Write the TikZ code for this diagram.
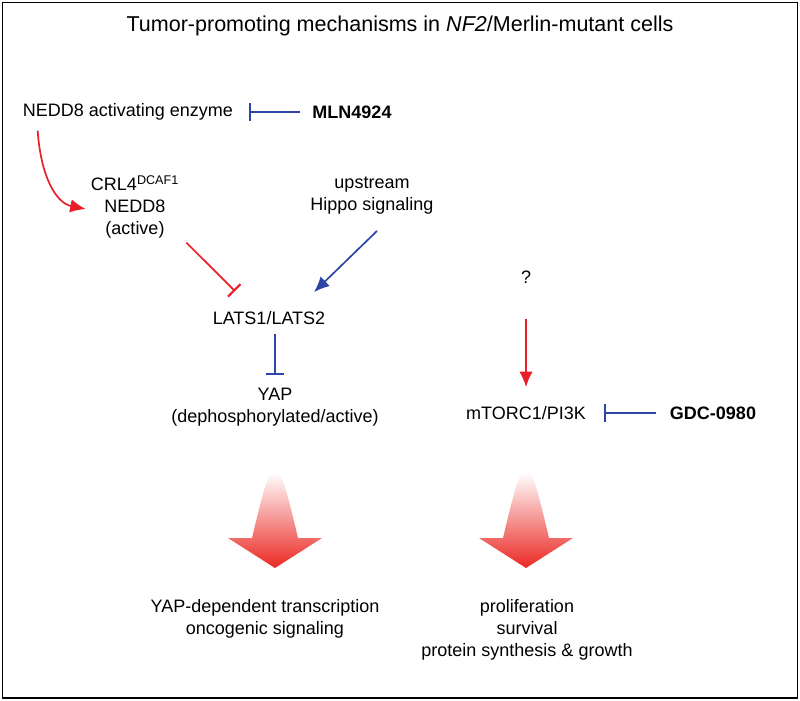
\documentclass[tikz,border=0pt]{standalone}
\usepackage{fontspec}
\setmainfont{Liberation Sans}
\usetikzlibrary{arrows.meta,calc}

\definecolor{inhblue}{RGB}{45,70,165}
\definecolor{actred}{RGB}{232,30,40}
\definecolor{fanred}{RGB}{235,40,35}

\begin{document}
\begin{tikzpicture}[x=0.025cm,y=-0.025cm,
  every node/.style={inner sep=0pt,align=center,font=\fontsize{12.8}{15.6}\selectfont},
  drug/.style={font=\fontsize{12.8}{15.6}\selectfont\bfseries},
  act/.style={line width=1.2pt,-{Latex[length=11pt,width=9.5pt]}},
  inh/.style={line width=1.2pt,-{Bar[width=12.5pt,line width=1.5pt]}},
  fan/.style={top color=white,bottom color=fanred}]
\useasboundingbox (0,0) rectangle (800,701);
\draw[line width=1.4pt] (2.5,2.5) rectangle (797.5,698);

\node[font=\fontsize{15.3}{18}\selectfont] (title) at (400,26)
  {Tumor-promoting mechanisms in \textit{NF2}/Merlin-mutant cells};

% NEDD8 branch
\node (nae) at (128,112) {NEDD8 activating enzyme};
\node[drug] (mln) at (352,112) {MLN4924};
\node (crl) at (135,207) {CRL4\textsuperscript{DCAF1}\\NEDD8\\(active)};
\node (hippo) at (372,196) {upstream\\Hippo signaling};
\node (lats) at (269,318) {LATS1/LATS2};
\node (yap) at (275,407) {YAP\\(dephosphorylated/active)};

% mTOR branch
\node (q) at (526,277) {?};
\node (mtor) at (526,413) {mTORC1/PI3K};
\node[drug] (gdc) at (713,413) {GDC-0980};

% outcomes
\node (yapout) at (265,618.5) {YAP-dependent transcription\\oncogenic signaling};
\node (mtorout) at (527,630) {proliferation\\survival\\protein synthesis \& growth};

\draw[inh,inhblue] ($(mln.west)+(-12,0)$) -- ($(nae.east)+(16,0)$);
\draw[act,actred] ($(nae.south west)+(15,10)$) .. controls +(3,45) and +(-30,-6) .. ($(crl.west)+(-5,2)$);
\draw[inh,actred] ($(crl.south east)+(7,4)$) -- ($(lats.north)+(-34,-20)$);
\draw[act,inhblue] ($(hippo.south)+(5,16)$) -- ($(lats.north)+(45,-19)$);
\draw[inh,inhblue] ($(lats.south)+(6,9)$) -- ($(yap.north)+(0,-13)$);
\draw[act,actred] ($(q.south)+(0,35)$) -- ($(mtor.north)+(0,-19)$);
\draw[inh,inhblue] ($(gdc.west)+(-14,0)$) -- ($(mtor.east)+(18,0)$);

\begin{scope}[shift={(275,472)}]
  \shade[fan] (-23,66) .. controls (-18,45) and (-10,10) .. (-5,3) .. controls (-3,0) and (3,0) .. (5,3)
    .. controls (10,10) and (18,45) .. (23,66) -- (47,66) -- (0,96) -- (-47,66) -- cycle;
\end{scope}
\begin{scope}[shift={(526,472)}]
  \shade[fan] (-23,66) .. controls (-18,45) and (-10,10) .. (-5,3) .. controls (-3,0) and (3,0) .. (5,3)
    .. controls (10,10) and (18,45) .. (23,66) -- (47,66) -- (0,96) -- (-47,66) -- cycle;
\end{scope}
\end{tikzpicture}
\end{document}
